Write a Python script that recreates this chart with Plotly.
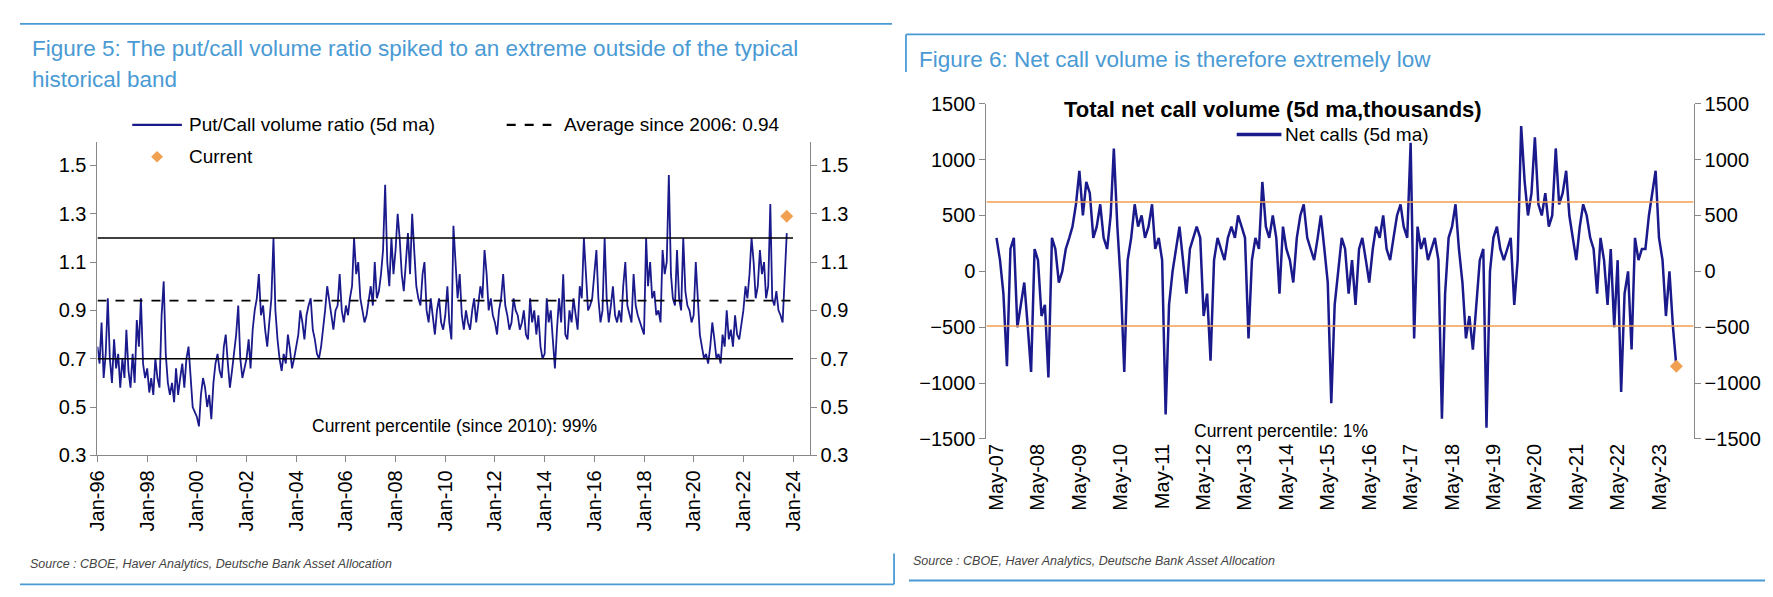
import plotly.graph_objects as go
import pandas as pd

W, H = 1773, 597
def pxa(x): return x / W
def pya(y): return 1 - y / H

# ---- left data (monthly, Jan-96 .. Oct-23)
pc_values = [
0.75,0.68,0.85,0.62,0.72,0.95,0.70,0.60,0.78,0.66,0.72,0.58,
0.70,0.62,0.82,0.65,0.58,0.72,0.60,0.86,0.75,0.95,0.68,0.62,
0.66,0.56,0.62,0.55,0.70,0.62,0.58,0.88,1.02,0.72,0.60,0.55,
0.60,0.52,0.66,0.55,0.62,0.68,0.58,0.70,0.75,0.62,0.50,0.48,
0.46,0.42,0.55,0.62,0.58,0.50,0.55,0.45,0.60,0.68,0.72,0.65,
0.62,0.75,0.80,0.68,0.58,0.65,0.72,0.80,0.92,0.70,0.62,0.66,
0.70,0.78,0.66,0.82,0.90,0.95,1.05,0.88,0.92,0.82,0.75,0.85,
0.95,1.20,0.90,0.78,0.70,0.65,0.72,0.68,0.80,0.74,0.66,0.70,
0.75,0.80,0.90,0.85,0.78,0.88,0.92,0.95,0.82,0.78,0.72,0.70,
0.75,0.82,0.90,1.00,0.95,0.88,0.82,0.90,0.92,1.05,0.90,0.85,
0.92,0.88,0.95,1.00,1.20,1.05,1.10,0.95,0.90,0.85,0.88,0.95,
1.00,0.92,1.10,0.95,0.98,1.05,1.15,1.42,1.10,1.00,1.20,1.05,
1.15,1.30,1.20,1.05,0.98,1.10,1.22,1.05,1.30,1.15,1.00,0.95,
0.92,1.05,1.10,0.90,0.85,0.95,0.88,0.80,0.90,0.95,0.85,0.82,
0.88,1.00,0.85,0.78,1.25,1.10,0.95,1.05,0.88,0.82,0.90,0.85,
0.82,0.90,0.95,0.85,0.92,1.00,0.95,1.15,1.05,0.90,0.95,0.88,
0.85,0.80,0.90,0.95,1.05,0.92,0.88,0.82,0.85,0.95,0.90,0.88,
0.82,0.85,0.90,0.80,0.78,0.95,0.85,0.90,0.80,0.88,0.75,0.70,
0.72,0.95,0.85,0.90,0.78,0.66,0.82,0.95,0.85,1.05,0.80,0.78,
0.90,0.85,0.95,0.88,0.82,1.00,0.95,1.20,1.05,0.90,0.92,0.95,
1.05,1.15,0.95,0.85,0.90,1.20,0.95,0.85,0.92,1.00,0.88,0.85,
0.90,0.85,1.00,1.10,0.92,0.88,0.85,1.05,0.92,0.88,0.85,0.82,
0.80,1.20,1.00,1.10,0.95,0.98,0.88,0.90,0.85,1.15,1.05,1.10,
1.46,1.05,0.95,0.92,1.15,0.95,0.90,1.20,0.98,0.92,0.90,0.85,
0.88,1.10,0.95,0.80,0.75,0.70,0.72,0.68,0.75,0.85,0.78,0.70,
0.72,0.68,0.80,0.75,0.90,0.78,0.82,0.75,0.88,0.80,0.78,0.85,
0.90,1.00,0.95,1.05,1.20,1.10,0.95,1.00,1.15,1.05,1.10,0.95,
1.00,1.34,0.95,0.92,0.98,0.90,0.88,0.85,1.05,1.22]
pc_dates = pd.date_range("1996-01-01", periods=len(pc_values), freq="MS")
pc_avg = 0.94
pc_band = [0.7, 1.2]
pc_current_date, pc_current = "2023-10-01", 1.29
left_ticks = pd.date_range("1996-01-01", "2024-01-01", freq="24MS")
left_ticklabels = [d.strftime("%b-%y") for d in left_ticks]

# ---- right data (monthly, May-07 .. Oct-23)
nc_values = [
300,100,-200,-850,200,300,-500,-300,
-100,-500,-900,200,100,-400,-300,-950,300,200,-100,0,
200,300,400,600,900,500,800,700,300,400,600,300,
200,500,1100,400,-100,-900,100,300,600,400,500,300,
400,600,200,300,100,-1280,-300,0,200,400,100,-200,
200,300,400,300,-400,-200,-800,100,300,200,100,300,
400,300,500,400,300,-600,100,300,200,800,400,300,
500,300,-200,400,200,100,-100,300,500,600,300,200,
100,300,500,200,-100,-1180,-300,0,300,200,-200,100,
-300,200,300,100,-100,200,400,300,500,200,100,300,
500,600,400,300,1150,-600,400,200,300,100,200,300,
100,-1320,-200,300,400,600,200,-100,-600,-400,-700,-300,
100,200,-1400,0,300,400,200,100,200,300,-300,100,
1300,800,500,700,1200,600,500,700,400,500,1100,600,
700,900,500,300,100,400,600,500,300,200,-200,300,
100,-300,200,-500,100,-1080,-200,0,-700,300,100,200,
200,500,700,900,300,100,-400,0,-500,-850]
nc_dates = pd.date_range("2007-05-01", periods=len(nc_values), freq="MS")
nc_band = [620, -490]
nc_current_date, nc_current = "2023-10-01", -850
right_ticks = pd.date_range("2007-05-01", "2023-05-01", freq="12MS")
right_ticklabels = [d.strftime("%b-%y") for d in right_ticks]

NAVY = "#1a1a8c"
ORANGE = "#f0a050"
BLUE = "#4a9ad4"
F = "Liberation Sans"

fig = go.Figure()
fig.add_trace(go.Scatter(x=pc_dates, y=pc_values, mode="lines", line=dict(color=NAVY, width=1.8), xaxis="x", yaxis="y"))
for v in pc_band:
    fig.add_trace(go.Scatter(x=["1996-01-01", "2024-01-01"], y=[v, v], mode="lines", line=dict(color="black", width=1.6), xaxis="x", yaxis="y"))
fig.add_trace(go.Scatter(x=["1996-01-01", "2024-01-01"], y=[pc_avg, pc_avg], mode="lines", line=dict(color="black", width=1.8, dash="dash"), xaxis="x", yaxis="y"))
fig.add_trace(go.Scatter(x=[pc_current_date], y=[pc_current], mode="markers", marker=dict(symbol="diamond", color=ORANGE, size=10), xaxis="x", yaxis="y"))

fig.add_trace(go.Scatter(x=nc_dates, y=nc_values, mode="lines", line=dict(color=NAVY, width=2.5), xaxis="x2", yaxis="y2"))
for v in nc_band:
    fig.add_trace(go.Scatter(x=["2007-02-01", "2024-03-01"], y=[v, v], mode="lines", line=dict(color=ORANGE, width=1.5), xaxis="x2", yaxis="y2"))
fig.add_trace(go.Scatter(x=[nc_current_date], y=[nc_current], mode="markers", marker=dict(symbol="diamond", color=ORANGE, size=10), xaxis="x2", yaxis="y2"))
fig.add_trace(go.Scatter(x=[], y=[], xaxis="x", yaxis="y3"))
fig.add_trace(go.Scatter(x=[], y=[], xaxis="x2", yaxis="y4"))

ax = dict(showgrid=False, zeroline=False, ticks="outside", ticklen=6, tickcolor="#888", linecolor="#888", showline=True,
          tickfont=dict(family=F, size=20, color="black"))
fig.update_layout(
    width=W, height=H, margin=dict(l=0, r=0, t=0, b=0), showlegend=False,
    plot_bgcolor="white", paper_bgcolor="white",
    xaxis=dict(ax, domain=[pxa(78), pxa(795)], range=["1996-01-01", "2024-09-01"], tickvals=left_ticks, ticktext=left_ticklabels, tickangle=-90, anchor="y"),
    yaxis=dict(ax, domain=[pya(453), pya(128)], range=[0.3, 1.596], tickvals=[0.3,0.5,0.7,0.9,1.1,1.3,1.5], tickformat=".1f", anchor="x"),
    yaxis3=dict(ax, overlaying="y", side="right", range=[0.3, 1.596], tickvals=[0.3,0.5,0.7,0.9,1.1,1.3,1.5], tickformat=".1f", anchor="x"),
    xaxis2=dict(ax, domain=[pxa(973), pxa(1685)], range=["2007-02-01", "2024-03-01"], tickvals=right_ticks, ticktext=right_ticklabels, tickangle=-90, anchor="y2", showline=False, ticks=""),
    yaxis2=dict(ax, domain=[pya(436), pya(88)], range=[-1500, 1500], tickvals=list(range(-1500, 1501, 500)), anchor="x2"),
    yaxis4=dict(ax, overlaying="y2", side="right", range=[-1500, 1500], tickvals=list(range(-1500, 1501, 500)), anchor="x2"),
)

def line(x0, y0, x1, y1, color=BLUE, width=1.8, dash=None):
    return dict(type="line", xref="paper", yref="paper", x0=pxa(x0), x1=pxa(x1), y0=pya(y0), y1=pya(y1),
                line=dict(color=color, width=width, dash=dash))

cx, cy, r = 138, 143, 6
diamond = dict(type="path", xref="paper", yref="paper",
               path=f"M {pxa(cx)} {pya(cy-r)} L {pxa(cx+r)} {pya(cy)} L {pxa(cx)} {pya(cy+r)} L {pxa(cx-r)} {pya(cy)} Z",
               fillcolor=ORANGE, line=dict(width=0))
shapes = [
    line(0, 5, 878, 5),
    line(892, 16, 1773, 16), line(892, 16, 892, 55),
    line(0, 587, 880, 587), line(880, 555, 880, 587),
    line(895, 583, 1767, 583), line(1767, 555, 1767, 583),
    line(113, 110, 163, 110, NAVY, 2.2),
    line(490, 110, 535, 110, "black", 2.2, "dash"),
    line(1225, 120, 1270, 120, NAVY, 3.5),
    diamond,
]
fig.update_layout(shapes=shapes)

def ann(x, y, text, size=19, color="black", xanchor="left"):
    fig.add_annotation(xref="paper", yref="paper", x=pxa(x), y=pya(y), text=text, showarrow=False,
                       xanchor=xanchor, yanchor="middle", font=dict(family=F, size=size, color=color))

ann(10, 31, "Figure 5: The put/call volume ratio spiked to an extreme outside of the typical", 22.5, BLUE)
ann(10, 63, "historical band", 22.5, BLUE)
ann(903, 42, "Figure 6: Net call volume is therefore extremely low", 22.5, BLUE)
ann(168, 110, "Put/Call volume ratio (5d ma)")
ann(546, 110, "Average since 2006: 0.94")
ann(168, 143, "Current")
ann(437, 423, "Current percentile (since 2010): 99%", 17.5, xanchor="center")
ann(1262, 94, "<b>Total net call volume (5d ma,thousands)</b>", 22, xanchor="center")
ann(1272, 120, "Net calls (5d ma)")
ann(1270, 428, "Current percentile: 1%", 17.5, xanchor="center")
ann(8, 566, "<i>Source : CBOE, Haver Analytics, Deutsche Bank Asset Allocation</i>", 12.5, "#444")
ann(897, 563, "<i>Source : CBOE, Haver Analytics, Deutsche Bank Asset Allocation</i>", 12.5, "#444")

fig.write_html("out.html")
